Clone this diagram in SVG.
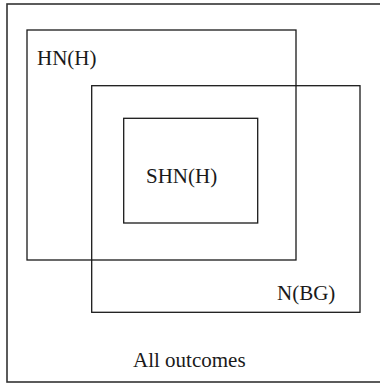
<svg xmlns="http://www.w3.org/2000/svg" width="380" height="383" viewBox="0 0 380 383">
<style>
.box{fill:none;stroke:#1a1a1a;stroke-width:1.3}
.outer{fill:none;stroke:#333;stroke-width:1.6}
.lbl{font-family:"Liberation Serif",serif;font-size:21px;fill:#1a1a1a}
</style>
<rect x="0" y="0" width="380" height="383" fill="#fff"/>
<g id="all-outcomes">
<rect class="outer" x="7" y="4" width="380" height="378"/>
<text class="lbl" x="133" y="367">All outcomes</text>
</g>
<g id="hn-h">
<rect class="box" x="27" y="30" width="269" height="230"/>
<text class="lbl" x="37" y="65">HN(H)</text>
</g>
<g id="n-bg">
<rect class="box" x="91.7" y="85.7" width="268.3" height="226.6"/>
<text class="lbl" x="277" y="300">N(BG)</text>
</g>
<g id="shn-h">
<rect class="box" x="123.7" y="118.3" width="134" height="104.7"/>
<text class="lbl" x="146" y="183">SHN(H)</text>
</g>
<g id="connectors"></g>
</svg>
